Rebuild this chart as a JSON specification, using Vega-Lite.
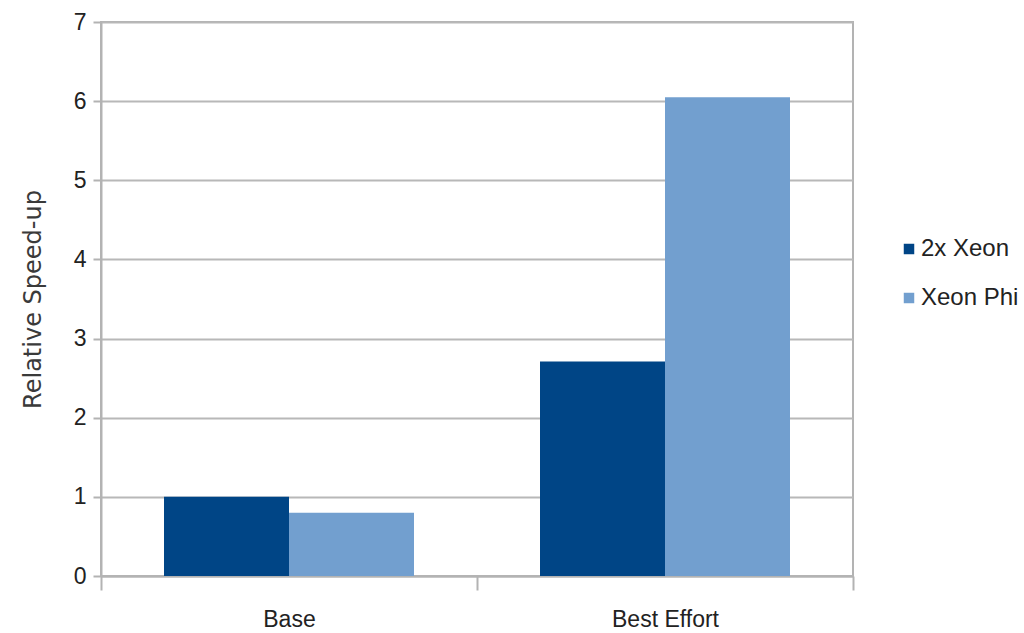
{
  "$schema": "https://vega.github.io/schema/vega-lite/v6.json",
  "width": 752,
  "height": 554,
  "autosize": "none",
  "padding": {"left": 101, "top": 22, "right": 171, "bottom": 57},
  "background": "white",
  "data": {
    "values": [
      {"workload": "Base", "platform": "2x Xeon", "speedup": 1.0},
      {"workload": "Base", "platform": "Xeon Phi", "speedup": 0.8},
      {"workload": "Best Effort", "platform": "2x Xeon", "speedup": 2.71},
      {"workload": "Best Effort", "platform": "Xeon Phi", "speedup": 6.05}
    ]
  },
  "mark": {"type": "bar"},
  "encoding": {
    "x": {
      "field": "workload",
      "type": "nominal",
      "sort": ["Base", "Best Effort"],
      "scale": {"paddingInner": 0, "paddingOuter": 0},
      "axis": {
        "title": null,
        "labelAngle": 0,
        "grid": false,
        "tickBand": "extent",
        "tickSize": 14,
        "tickWidth": 2,
        "tickColor": "#b3b3b3",
        "domainColor": "#b3b3b3",
        "domainWidth": 2,
        "labelFont": "Liberation Sans",
        "labelFontSize": 23,
        "labelColor": "#222222",
        "labelPadding": 18
      }
    },
    "xOffset": {
      "field": "platform",
      "type": "nominal",
      "sort": ["2x Xeon", "Xeon Phi"],
      "scale": {"paddingInner": 0, "paddingOuter": 0.504}
    },
    "y": {
      "field": "speedup",
      "type": "quantitative",
      "scale": {"domain": [0, 7], "nice": false},
      "axis": {
        "title": "Relative Speed-up",
        "titleFont": "DejaVu Sans",
        "titleFontSize": 24,
        "titleFontWeight": "normal",
        "titleColor": "#3a3a3a",
        "titlePadding": 28,
        "values": [0, 0.5, 1, 1.5, 2, 2.5, 3, 3.5, 4, 4.5, 5, 5.5, 6, 6.5, 7],
        "format": "d",
        "labelExpr": "datum.value % 1 ? '' : datum.label",
        "labelFont": "Liberation Sans",
        "labelFontSize": 23,
        "labelColor": "#222222",
        "labelPadding": 7,
        "tickSize": 8,
        "tickWidth": 2,
        "tickColor": "#b3b3b3",
        "tickOpacity": {"condition": {"test": "datum.value % 1", "value": 0}, "value": 1},
        "grid": true,
        "gridColor": "#b8b8b8",
        "gridWidth": 2,
        "domainColor": "#b3b3b3",
        "domainWidth": 2
      }
    },
    "color": {
      "field": "platform",
      "type": "nominal",
      "sort": ["2x Xeon", "Xeon Phi"],
      "scale": {"domain": ["2x Xeon", "Xeon Phi"], "range": ["#004586", "#729fcf"]},
      "legend": {
        "title": null,
        "orient": "none",
        "legendX": 796,
        "legendY": 215,
        "symbolType": "square",
        "symbolSize": 110,
        "symbolStrokeWidth": 0,
        "rowPadding": 25,
        "labelFont": "Liberation Sans",
        "labelFontSize": 24,
        "labelColor": "#222222",
        "labelOffset": 0
      }
    }
  },
  "config": {
    "view": {"stroke": "#b3b3b3", "strokeWidth": 2}
  }
}
